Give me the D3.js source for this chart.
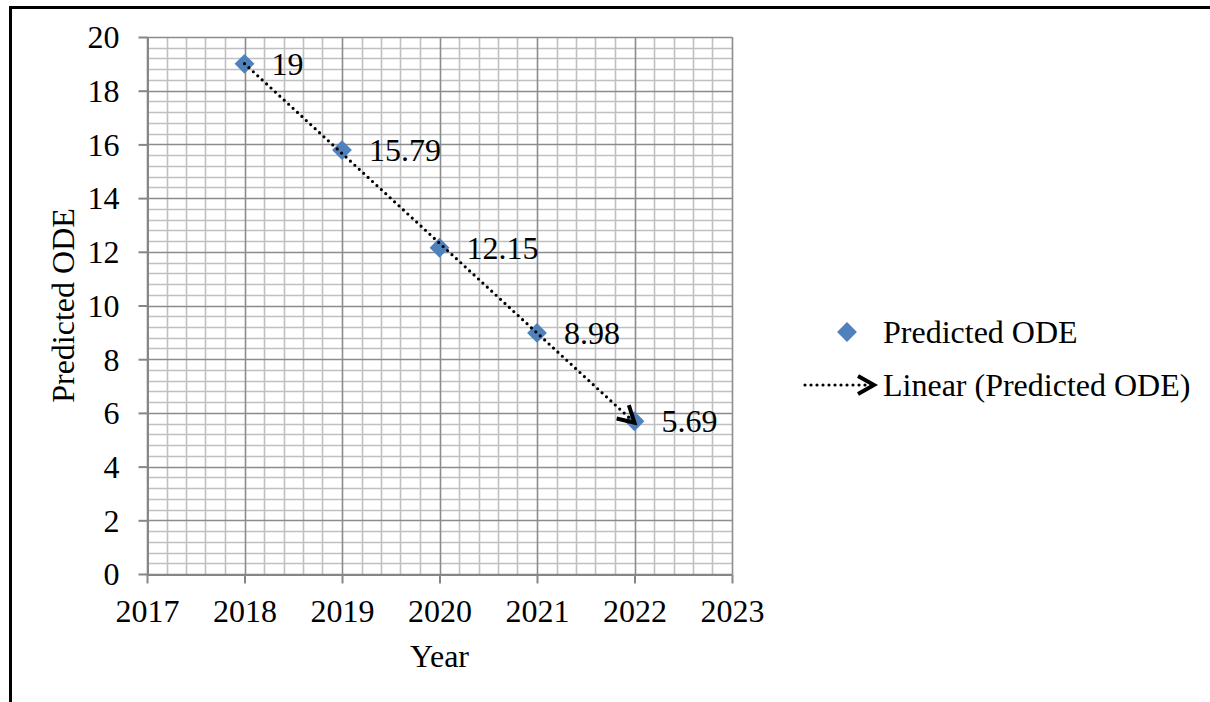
<!DOCTYPE html>
<html>
<head>
<meta charset="utf-8">
<script src="https://cdn.jsdelivr.net/npm/d3@7"></script>
<style>
  html, body { margin: 0; padding: 0; background: #fff; }
  svg { display: block; }
  svg text { font-family: "Liberation Serif", "Times New Roman", serif !important; fill: #000; }
</style>
</head>
<body>
<svg id="chart" width="1210" height="702"></svg>
<script>
// Predicted ODE by year
const years = [2018, 2019, 2020, 2021, 2022];
const predictedODE = [19, 15.79, 12.15, 8.98, 5.69];
const xTicks = [2017, 2018, 2019, 2020, 2021, 2022, 2023];
const yTicks = [0, 2, 4, 6, 8, 10, 12, 14, 16, 18, 20];
const seriesName = "Predicted ODE";
const trendName = "Linear (Predicted ODE)";

const svg = d3.select("#chart");
const W = 1210, H = 702;
const plot = { left: 147, right: 732, top: 37, bottom: 574 };
const fontSize = 32;
const serif = "'Liberation Serif', 'Times New Roman', serif";

const x = d3.scaleLinear().domain([2017, 2023]).range([plot.left, plot.right]);
const y = d3.scaleLinear().domain([0, 20]).range([plot.bottom, plot.top]);

// outer frame (top and left edges)
svg.append("rect").attr("x", 0).attr("y", 0).attr("width", W).attr("height", H).attr("fill", "#fff");
svg.append("line").attr("x1", 9).attr("x2", W).attr("y1", 7.5).attr("y2", 7.5)
  .attr("stroke", "#000").attr("stroke-width", 3);
svg.append("line").attr("x1", 10.5).attr("x2", 10.5).attr("y1", 6).attr("y2", H)
  .attr("stroke", "#000").attr("stroke-width", 3);

const g = svg.append("g");

// minor gridlines
const minorX = d3.range(2017, 2023.0001, 0.2).filter(v => Math.abs(v - Math.round(v)) > 1e-6);
const minorY = d3.range(0, 20.0001, 0.4).filter(v => Math.abs(v / 2 - Math.round(v / 2)) > 1e-6);
g.selectAll(".mx").data(minorX).join("line")
  .attr("x1", d => Math.round(x(d)) + 0.5).attr("x2", d => Math.round(x(d)) + 0.5)
  .attr("y1", plot.top).attr("y2", plot.bottom)
  .attr("stroke", "#c0c0c0").attr("stroke-width", 1.6);
g.selectAll(".my").data(minorY).join("line")
  .attr("y1", d => Math.round(y(d)) + 0.5).attr("y2", d => Math.round(y(d)) + 0.5)
  .attr("x1", plot.left).attr("x2", plot.right)
  .attr("stroke", "#c0c0c0").attr("stroke-width", 1.6);

// major gridlines
g.selectAll(".Mx").data(xTicks).join("line")
  .attr("x1", d => Math.round(x(d)) + 0.5).attr("x2", d => Math.round(x(d)) + 0.5)
  .attr("y1", plot.top).attr("y2", plot.bottom)
  .attr("stroke", "#8c8c8c").attr("stroke-width", 1.6);
g.selectAll(".My").data(yTicks).join("line")
  .attr("y1", d => Math.round(y(d)) + 0.5).attr("y2", d => Math.round(y(d)) + 0.5)
  .attr("x1", plot.left).attr("x2", plot.right)
  .attr("stroke", "#8c8c8c").attr("stroke-width", 1.6);

// axes
const xAxis = g.append("g").attr("transform", `translate(0,${plot.bottom + 0.5})`)
  .call(d3.axisBottom(x).tickValues(xTicks).tickFormat(d3.format("d")).tickSize(9).tickSizeOuter(0));
const yAxis = g.append("g").attr("transform", `translate(${plot.left + 0.5},0)`)
  .call(d3.axisLeft(y).tickValues(yTicks).tickSize(9).tickSizeOuter(0));
[xAxis, yAxis].forEach(a => {
  a.attr("font-family", serif).attr("font-size", fontSize);
  a.select(".domain").attr("stroke", "#868686").attr("stroke-width", 2);
  a.selectAll(".tick line").attr("stroke", "#868686").attr("stroke-width", 2);
  a.selectAll(".tick text").style("font-family", serif)
    .attr("font-size", fontSize).attr("fill", "#000");
});
xAxis.selectAll(".tick text").attr("dy", null).attr("y", 47);
yAxis.selectAll(".tick text").attr("x", -28).attr("dy", "0.34em");

// axis titles
svg.append("text").attr("x", (plot.left + plot.right) / 2).attr("y", 667)
  .attr("text-anchor", "middle").attr("font-size", fontSize).text("Year");
svg.append("text")
  .attr("transform", `translate(74,${(plot.top + plot.bottom) / 2}) rotate(-90)`)
  .attr("text-anchor", "middle").attr("font-size", fontSize).text(seriesName);

// linear trend (least squares)
const mx = d3.mean(years), my = d3.mean(predictedODE);
const slope = d3.sum(years, (v, i) => (v - mx) * (predictedODE[i] - my)) / d3.sum(years, v => (v - mx) ** 2);
const icpt = my - slope * mx;
const x0 = years[0], x1 = years[years.length - 1];
const p0 = [x(x0), y(icpt + slope * x0)];
const p1 = [x(x1), y(icpt + slope * x1)];

const defs = svg.append("defs");
defs.append("marker").attr("id", "chev").attr("viewBox", "0 0 24 24")
  .attr("refX", 20).attr("refY", 12).attr("markerWidth", 24).attr("markerHeight", 24)
  .attr("markerUnits", "userSpaceOnUse").attr("orient", "auto")
  .append("path").attr("d", "M4,3 L20,12 L4,21").attr("fill", "none")
  .attr("stroke", "#000").attr("stroke-width", 4).attr("stroke-linejoin", "miter");

// data markers
const diamond = d3.symbol().type(d3.symbolDiamond2).size(250);
g.selectAll(".pt").data(years).join("path")
  .attr("transform", (d, i) => `translate(${x(d)},${y(predictedODE[i])})`)
  .attr("d", diamond).attr("fill", "#4f81bd");

g.append("line")
  .attr("x1", p0[0]).attr("y1", p0[1]).attr("x2", p1[0]).attr("y2", p1[1])
  .attr("stroke", "#000").attr("stroke-width", 3.2).attr("stroke-linecap", "round")
  .attr("stroke-dasharray", "0 6").attr("marker-end", "url(#chev)");

// data labels
g.selectAll(".lbl").data(years).join("text")
  .attr("x", d => x(d) + 27).attr("y", (d, i) => y(predictedODE[i]))
  .attr("dy", "0.35em").attr("font-size", fontSize)
  .text((d, i) => predictedODE[i]);

// legend
const lg = svg.append("g");
lg.append("path").attr("transform", "translate(847,332)").attr("d", diamond).attr("fill", "#4f81bd");
lg.append("text").attr("x", 883).attr("y", 332).attr("dy", "0.35em").attr("font-size", fontSize).text(seriesName);
lg.append("line").attr("x1", 805).attr("x2", 874).attr("y1", 385).attr("y2", 385)
  .attr("stroke", "#000").attr("stroke-width", 3.2).attr("stroke-linecap", "round")
  .attr("stroke-dasharray", "0 6").attr("marker-end", "url(#chev)");
lg.append("text").attr("x", 883).attr("y", 385).attr("dy", "0.35em").attr("font-size", fontSize).text(trendName);
</script>
</body>
</html>
